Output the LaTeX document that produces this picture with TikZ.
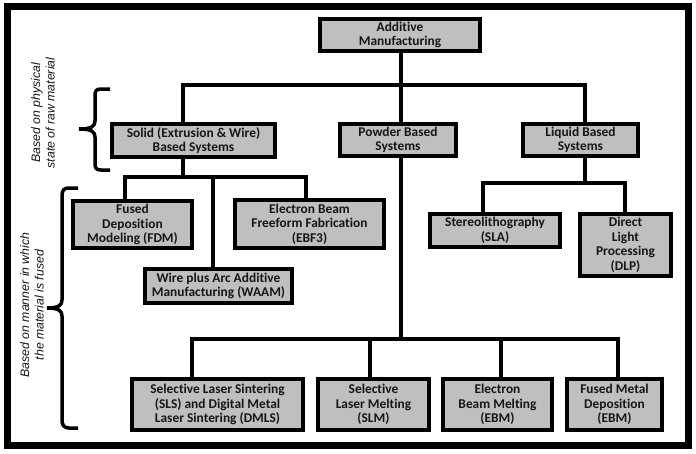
\documentclass[tikz,border=0pt]{standalone}
\usepackage{fontspec}
\setmainfont{Carlito}[Ligatures=NoCommon]
\newfontfamily\labfont{Liberation Sans}
\usetikzlibrary{calc}
\definecolor{boxgray}{HTML}{BFBFBF}
\definecolor{txt}{HTML}{161616}
\tikzset{
  box/.style={draw=black, fill=boxgray, line width=4pt, inner sep=1pt,
    align=center, text=txt, font=\fontsize{13.4}{14.6}\selectfont\bfseries,
    minimum width=#1},
  box/.default=100pt,
  conn/.style={line width=4pt, line cap=rect},
  bracepath/.style={line width=3.5pt, line cap=butt},
  sidelabel/.style={rotate=90, align=center, text=txt,
    font=\labfont\fontsize{12.3}{14.5}\selectfont\itshape}
}
\begin{document}
\begin{tikzpicture}[x=1pt,y=-1pt]
\useasboundingbox (0,0) rectangle (696,453);
\draw[line width=7pt] (7.5,6.5) rectangle (688.5,445);

% nodes
\node[box=160pt, minimum height=32pt] (AM) at (400,35) {Additive\\Manufacturing};
\node[box=163pt, minimum height=33pt] (solid) at (193.5,140.5) {Solid (Extrusion \& Wire)\\Based Systems};
\node[box=116pt, minimum height=32pt] (powder) at (398,140) {Powder Based\\Systems};
\node[box=115pt, minimum height=32pt] (liquid) at (580.5,140) {Liquid Based\\Systems};
\node[box=119pt, minimum height=47pt] (fdm) at (132.5,224.5) {Fused\\Deposition\\Modeling (FDM)};
\node[box=149pt, minimum height=48pt] (ebf) at (309.5,224) {Electron Beam\\Freeform Fabrication\\(EBF3)};
\node[box=147pt, minimum height=34pt] (waam) at (218.5,286) {Wire plus Arc Additive\\Manufacturing (WAAM)};
\node[box=130pt, minimum height=33pt] (sla) at (495,230.5) {Stereolithography\\(SLA)};
\node[box=91pt, minimum height=62pt] (dlp) at (625.5,245) {Direct\\Light\\Processing\\(DLP)};
\node[box=171pt, minimum height=51pt] (sls) at (217.5,404.5) {Selective Laser Sintering\\(SLS) and Digital Metal\\Laser Sintering (DMLS)};
\node[box=111pt, minimum height=51pt] (slm) at (373.5,404.5) {Selective\\Laser Melting\\(SLM)};
\node[box=109pt, minimum height=51pt] (ebm) at (497.5,404.5) {Electron\\Beam Melting\\(EBM)};
\node[box=95pt, minimum height=51pt] (fmd) at (614.5,404.5) {Fused Metal\\Deposition\\(EBM)};

% bus coordinates
\coordinate (t0) at (401,85);
\coordinate (tL) at (183,85);
\coordinate (tR) at (585,85);
\coordinate (s0) at (183,177);
\coordinate (sL) at (125,177);
\coordinate (sM) at (213,177);
\coordinate (sR) at (306,177);
\coordinate (l0) at (585,183);
\coordinate (lL) at (483,183);
\coordinate (lR) at (625,183);
\coordinate (p0) at (401,339);
\coordinate (pA) at (192,339);
\coordinate (pB) at (370,339);
\coordinate (pC) at (501,339);
\coordinate (pD) at (618,339);

% connectors
\draw[conn] (AM.south -| t0) -- (t0);
\draw[conn] (tL) -- (tR);
\draw[conn] (tL) -- (tL |- solid.north);
\draw[conn] (t0) -- (t0 |- powder.north);
\draw[conn] (tR) -- (tR |- liquid.north);

\draw[conn] (s0 |- solid.south) -- (s0);
\draw[conn] (sL) -- (sR);
\draw[conn] (sL) -- (sL |- fdm.north);
\draw[conn] (sR) -- (sR |- ebf.north);
\draw[conn] (sM) -- (sM |- waam.north);

\draw[conn] (l0 |- liquid.south) -- (l0);
\draw[conn] (lL) -- (lR);
\draw[conn] (lL) -- (lL |- sla.north);
\draw[conn] (lR) -- (lR |- dlp.north);

\draw[conn] (p0 |- powder.south) -- (p0);
\draw[conn] (pA) -- (pD);
\draw[conn] (pA) -- (pA |- sls.north);
\draw[conn] (pB) -- (pB |- slm.north);
\draw[conn] (pC) -- (pC |- ebm.north);
\draw[conn] (pD) -- (pD |- fmd.north);

% braces
\draw[bracepath] (110,89) -- (101,89) .. controls (96,89) and (95,91) .. (95,96)
  -- (95,121) .. controls (95,126) and (92,129) .. (79,129)
  .. controls (92,129) and (95,132) .. (95,137)
  -- (95,163) .. controls (95,168) and (96,170) .. (101,170) -- (110,170);
\draw[bracepath] (78,188) -- (69,188) .. controls (64,188) and (62,190) .. (62,196)
  -- (62,300) .. controls (62,305) and (59,308) .. (47,308)
  .. controls (59,308) and (62,311) .. (62,316)
  -- (62,420) .. controls (62,425) and (64,428) .. (69,428) -- (78,428);

% side labels
\node[sidelabel] (lab1) at (43,113) {Based on physical\\state of raw material};
\node[sidelabel] (lab2) at (32,305) {Based on manner in which\\the material is fused};
\end{tikzpicture}
\end{document}
